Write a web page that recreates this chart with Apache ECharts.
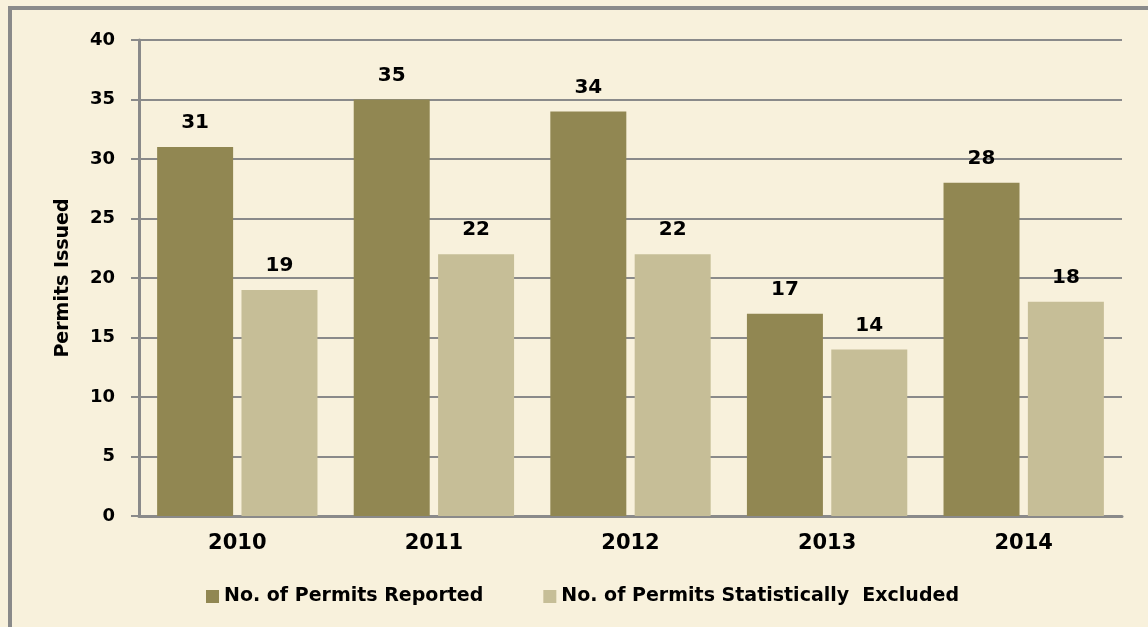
<!DOCTYPE html>
<html>
<head>
<meta charset="utf-8">
<script src="https://cdn.jsdelivr.net/npm/echarts@6/dist/echarts.min.js"></script>
<style>
  html, body { margin: 0; padding: 0; background: #f8f1dc; }
  #chart { width: 1148px; height: 627px; }
</style>
</head>
<body>
<div id="chart"></div>
<script>
const years = ["2010", "2011", "2012", "2013", "2014"];
const reported = [31, 35, 34, 17, 28];
const excluded = [19, 22, 22, 14, 18];

const chart = echarts.init(document.getElementById("chart"));
const font = "DejaVu Sans, Verdana, sans-serif";

chart.setOption({
  backgroundColor: "#f8f1dc",
  animation: false,
  // frame: top and left edges of the box
  graphic: [
    {
      type: "polyline",
      shape: { points: [[10, 627], [10, 8], [1148, 8]] },
      style: { stroke: "#8a8a8a", lineWidth: 4, fill: null },
    },
  ],
  grid: {
    left: 139,
    right: 26,
    top: 40,
    bottom: 111,
  },
  legend: {
    top: 582,
    left: 201,
    itemWidth: 13,
    itemHeight: 13,
    itemGap: 60,
    icon: "rect",
    textStyle: { fontFamily: font, fontWeight: "bold", fontSize: 19, color: "#000" },
    data: ["No. of Permits Reported", "No. of Permits Statistically  Excluded"],
  },
  xAxis: {
    type: "category",
    data: years,
    axisLine: { lineStyle: { color: "#8a8a8a", width: 3 } },
    axisTick: { length: 8, lineStyle: { color: "#8a8a8a", width: 2 } },
    axisLabel: {
      margin: 17,
      fontFamily: font,
      fontWeight: "bold",
      fontSize: 21,
      color: "#000",
    },
  },
  yAxis: {
    type: "value",
    min: 0,
    max: 40,
    interval: 5,
    name: "Permits Issued",
    nameLocation: "middle",
    nameGap: 66,
    nameTextStyle: { fontFamily: font, fontWeight: "bold", fontSize: 19, color: "#000" },
    axisLine: { show: true, lineStyle: { color: "#8a8a8a", width: 3 } },
    axisTick: { show: true, length: 8, lineStyle: { color: "#8a8a8a", width: 2 } },
    axisLabel: {
      margin: 24,
      fontFamily: font,
      fontWeight: "bold",
      fontSize: 18,
      color: "#000",
    },
    splitLine: { lineStyle: { color: "#8a8a8a", width: 2 } },
  },
  series: [
    {
      name: "No. of Permits Reported",
      type: "bar",
      data: reported,
      barWidth: 76,
      barGap: "11%",
      itemStyle: { color: "#918752" },
      label: {
        show: true,
        position: "top",
        distance: 14,
        fontFamily: font,
        fontWeight: "bold",
        fontSize: 20,
        color: "#000",
      },
    },
    {
      name: "No. of Permits Statistically  Excluded",
      type: "bar",
      data: excluded,
      barWidth: 76,
      itemStyle: { color: "#c6be97" },
      label: {
        show: true,
        position: "top",
        distance: 14,
        fontFamily: font,
        fontWeight: "bold",
        fontSize: 20,
        color: "#000",
      },
    },
  ],
});
</script>
</body>
</html>
